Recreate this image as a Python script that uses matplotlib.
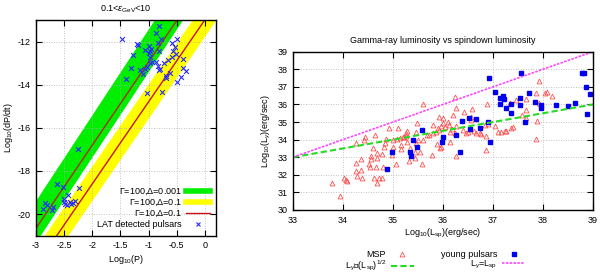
import matplotlib.pyplot as plt
from matplotlib.lines import Line2D

plt.rcParams['font.family'] = ['Liberation Sans', 'DejaVu Sans']
plt.rcParams['font.size'] = 6.5
plt.rcParams['mathtext.fontset'] = 'custom'
plt.rcParams['mathtext.rm'] = 'Liberation Sans'
plt.rcParams['mathtext.it'] = 'Liberation Sans:italic'

# ---- left panel data: log10(P) vs log10(dP/dt) ----
band_x = [-3.5, 0.5]
green_lo = [-23.31, -7.51]
green_hi = [-21.39, -5.50]
yellow_lo = [-25.1, -9.9]
yellow_hi = [-23.5, -8.3]
red_up = [-22.58, -7.18]
red_lo = [-24.3, -9.1]

lat_p = [-1.48, -1.21, -1.19, -1.28, -1.06, -0.99, -0.97, -1.0, -0.98, -0.95,
         -0.83, -0.77, -0.82, -0.87, -0.59, -0.50, -0.53, -0.56, -0.52, -0.58,
         -0.65, -0.38, -0.81, -0.86, -0.84, -0.82, -0.79, -0.73, -0.97, -0.93,
         -1.03, -1.06, -1.16, -1.09, -1.31, -1.40, -1.02, -0.76, -0.69, -0.69,
         -0.62, -0.49, -0.43, -0.39, -0.34, -2.25, -2.63, -2.52, -2.23, -2.43,
         -2.50, -2.50, -2.49, -2.40, -2.35, -2.30, -2.84, -2.81, -2.88, -2.69,
         -2.72, -2.45, -2.37]
lat_pdot = [-11.87, -12.12, -12.17, -12.62, -12.39, -12.2, -12.45, -12.55, -12.7, -12.35,
            -12.07, -11.89, -11.27, -11.61, -12.08, -11.89, -12.23, -12.45, -12.57, -12.73,
            -12.84, -12.79, -12.45, -12.93, -13.14, -13.33, -13.25, -13.0, -13.0, -12.93,
            -13.16, -13.25, -13.33, -13.5, -13.24, -13.73, -14.40, -14.33, -13.70, -13.6,
            -13.47, -13.86, -13.64, -13.24, -13.36, -16.99, -18.62, -18.74, -18.77, -19.13,
            -19.28, -19.44, -19.55, -19.45, -19.5, -19.4, -19.49, -19.60, -19.75, -19.67,
            -19.83, -19.6, -19.52]

# ---- right panel data: log10(L_sp) vs log10(L_gamma) ----
young_lsp = [36.93, 37.57, 38.78, 38.83, 38.86, 38.94, 38.89, 37.04, 37.73, 37.14,
             37.21, 37.22, 37.15, 37.27, 37.37, 37.55, 37.55, 37.84, 37.97, 37.97,
             38.27, 38.51, 38.65, 37.37, 37.65, 36.91, 36.53, 36.67, 36.39, 36.54,
             36.74, 35.59, 36.01, 36.27, 35.41, 35.99, 35.49, 34.99, 35.34, 35.36,
             36.35, 36.95, 34.89]
young_lg = [37.49, 37.81, 37.81, 37.81, 37.01, 36.6, 35.46, 36.73, 36.67, 36.35,
            36.48, 36.30, 36.03, 35.82, 36.03, 36.35, 35.97, 36.16, 35.97, 35.78,
            35.97, 35.92, 36.07, 35.53, 35.03, 35.03, 35.22, 35.18, 35.08, 34.59,
            34.65, 34.55, 34.17, 34.27, 33.98, 33.89, 33.57, 33.32, 33.32, 33.09,
            33.32, 33.89, 32.32]

msp_lsp = [37.93, 37.87, 38.04, 38.09, 38.19, 37.67, 37.92, 37.47, 37.34, 36.89,
           36.24, 35.61, 36.27, 36.59, 36.43, 36.21, 36.01, 36.01, 35.49, 34.93,
           35.10, 35.29, 35.81, 35.90, 35.97, 36.05, 36.12, 36.18, 36.26, 36.40,
           36.50, 36.55, 37.04, 37.66, 37.59, 37.67, 37.89, 37.86, 33.79, 33.94,
           34.03, 34.07, 34.09, 34.26, 34.37, 34.27, 34.37, 34.29, 34.39, 34.26,
           34.43, 34.53, 34.55, 34.57, 34.57, 34.60, 34.69, 34.69, 34.67, 34.62,
           34.72, 34.78, 34.69, 34.79, 34.81, 34.83, 34.84, 34.87, 34.99, 35.0,
           35.0, 35.07, 35.09, 35.16, 35.17, 35.22, 35.26, 35.29, 35.33, 35.34,
           35.44, 35.45, 35.47, 35.50, 35.55, 35.61, 35.59, 35.69, 35.72, 35.79,
           35.89, 35.94, 35.97, 36.14, 36.24, 36.27, 36.67, 36.75, 36.87, 36.86,
           37.17, 37.27, 34.44, 34.64, 35.21, 35.27, 35.14, 35.47, 35.80, 35.86,
           35.93, 36.14, 36.46, 36.62, 36.77, 37.11, 37.24, 37.36, 37.41, 36.84,
           36.91, 36.57, 36.57, 36.11, 35.93]
msp_lg = [37.35, 36.67, 36.67, 36.73, 36.48, 36.31, 36.1, 36.26, 36.07, 36.05,
          36.43, 36.05, 35.78, 35.74, 35.59, 35.40, 35.25, 34.97, 34.93, 34.68,
          34.68, 34.49, 34.84, 34.65, 34.75, 34.7, 34.82, 34.62, 34.8, 34.55,
          34.45, 34.6, 34.78, 35.22, 35.40, 35.69, 35.08, 34.02, 31.52, 30.80,
          31.81, 31.71, 31.67, 32.69, 32.90, 32.24, 32.28, 31.94, 31.84, 33.80,
          33.98, 32.6, 32.45, 33.07, 32.9, 33.51, 33.26, 32.98, 32.43, 31.81,
          31.81, 31.81, 31.56, 33.19, 32.43, 33.57, 33.83, 34.02, 33.13, 33.60,
          34.0, 32.62, 34.02, 33.45, 33.70, 34.17, 34.40, 33.85, 32.79, 33.51,
          32.94, 33.32, 33.80, 34.0, 33.32, 33.98, 32.62, 34.27, 34.27, 33.13,
          33.76, 33.51, 33.60, 33.89, 34.40, 33.07, 34.36, 34.40, 34.21, 33.41,
          34.46, 34.51, 34.17, 34.27, 34.17, 34.21, 34.08, 34.45, 34.35, 34.45,
          34.55, 34.45, 34.40, 34.49, 34.30, 34.45, 34.49, 34.65, 34.74, 34.84,
          34.89, 35.31, 35.12, 35.03, 35.31]

eq_x = [33, 39]
eq_y = [33, 39]
sqrt_x = [33, 39]
sqrt_y = [33, 36]


def style_axes(ax):
    ax.grid(True, color='#b0b0b0', linestyle=(0, (1, 2)), linewidth=0.6)
    ax.tick_params(direction='in', top=True, right=True, length=4, width=0.8, pad=4)
    for s in ax.spines.values():
        s.set_linewidth(1.0)


fig = plt.figure(figsize=(6.0, 2.72), dpi=100)

# left panel
ax1 = fig.add_axes([0.06, 0.1335, 0.30, 0.793])
ax1.fill_between(band_x, green_lo, green_hi, color='#00ee00', lw=0)
ax1.fill_between(band_x, yellow_lo, yellow_hi, color='#ffff00', lw=0)
ax1.plot(band_x, red_up, color='#a83010', lw=1.0)
ax1.plot(band_x, red_lo, color='#cc1010', lw=1.0)
ax1.scatter(lat_p, lat_pdot, marker='x', s=12, color='#2a2aff', linewidths=0.8, zorder=3)
ax1.set_xlim(-3, 0.2)
ax1.set_ylim(-21, -11)
ax1.set_xticks([-3, -2.5, -2, -1.5, -1, -0.5, 0])
ax1.set_xticklabels(['-3', '-2.5', '-2', '-1.5', '-1', '-0.5', '0'])
ax1.set_yticks([-12, -14, -16, -18, -20])
ax1.set_yticklabels(['-12', '-14', '-16', '-18', '-20'])
style_axes(ax1)
ax1.set_xlabel(r'Log$_{10}$(P)', labelpad=2)
ax1.set_ylabel(r'Log$_{10}$(dP/dt)', labelpad=2)
ax1.set_title(r'0.1<$\epsilon_{\rm GeV}$<10', fontsize=6.5, pad=6)
h1 = [Line2D([], [], color='#00ee00', lw=4), Line2D([], [], color='#ffff00', lw=4),
      Line2D([], [], color='#cc1010', lw=1.0),
      Line2D([], [], marker='x', ls='none', color='#2a2aff', ms=3.5, mew=0.8)]
l1 = [r'$\Gamma$=100,$\Delta$=0.001', r'$\Gamma$=100,$\Delta$=0.1',
      r'$\Gamma$=10,$\Delta$=0.1', 'LAT detected pulsars']
ax1.legend(h1, l1, loc='lower right', markerfirst=False, frameon=False,
           handlelength=2.6, handletextpad=0.5, labelspacing=0.1,
           borderaxespad=0.3, fontsize=6.5)

# right panel
ax2 = fig.add_axes([0.4883, 0.228, 0.50, 0.582])
p_msp, = ax2.plot(msp_lsp, msp_lg, ls='none', marker='^', ms=3.5, mfc='none',
                  mec='#ff5050', mew=0.6)
p_young, = ax2.plot(young_lsp, young_lg, ls='none', marker='s', ms=3.5, color='#0000ee')
p_sqrt, = ax2.plot(sqrt_x, sqrt_y, color='#22dd22', lw=1.5, ls=(0, (3, 1.5)))
p_eq, = ax2.plot(eq_x, eq_y, color='#ff44ff', lw=1.2, ls=(0, (1.5, 0.8)))
ax2.set_xlim(33, 39)
ax2.set_ylim(30, 39)
ax2.set_yticks(range(30, 40))
style_axes(ax2)
ax2.set_xlabel(r'Log$_{10}$(L$_{\rm sp}$)(erg/sec)', labelpad=2)
ax2.set_ylabel(r'Log$_{10}$(L$_\gamma$)(erg/sec)', labelpad=3)
ax2.set_title('Gamma-ray luminosity vs spindown luminosity', fontsize=6.5, pad=6)
# column-major order so that rows read: MSP / young, sqrt / equal
h2 = [p_msp, p_sqrt, p_young, p_eq]
l2 = ['MSP', 'L$_\\gamma$\u221d(L$_{\\rm sp}$)$^{1/2}$',
      'young pulsars', r'L$_\gamma$=L$_{\rm sp}$']
fig.legend(h2, l2, loc='upper center', bbox_to_anchor=(0.725, 0.102), ncol=2,
           markerfirst=False, frameon=False, handlelength=2.6,
           handletextpad=0.5, labelspacing=0.0, columnspacing=3.0, fontsize=6.5,
           borderpad=0.1)

fig.savefig('out.png', dpi=100)
